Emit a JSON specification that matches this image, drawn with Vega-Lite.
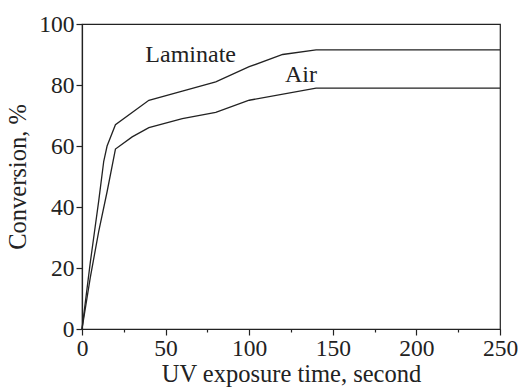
{
  "$schema": "https://vega.github.io/schema/vega-lite/v6.json",
  "width": 418,
  "height": 305,
  "autosize": {"type": "none"},
  "padding": {"left": 82, "top": 24, "right": 20, "bottom": 63},
  "background": "white",
  "config": {
    "view": {"stroke": "#222", "strokeWidth": 1.2},
    "font": "'Liberation Serif', 'Times New Roman', serif",
    "text": {"font": "'Liberation Serif', 'Times New Roman', serif"},
    "axis": {
      "domainColor": "#222", "domainWidth": 1.2, "tickColor": "#222", "tickWidth": 1.2,
      "labelColor": "#222", "titleColor": "#222",
      "labelFont": "'Liberation Serif', 'Times New Roman', serif", "titleFont": "'Liberation Serif', 'Times New Roman', serif",
      "labelFontSize": 23.5, "titleFontSize": 24.5, "titleFontWeight": "normal", "grid": false
    }
  },
  "datasets": {
    "curves": [
      {"t": 0, "v": 0, "s": "Laminate"}, {"t": 5, "v": 22, "s": "Laminate"}, {"t": 10, "v": 42, "s": "Laminate"},
      {"t": 13, "v": 55, "s": "Laminate"}, {"t": 15, "v": 60, "s": "Laminate"}, {"t": 20, "v": 67, "s": "Laminate"},
      {"t": 40, "v": 75, "s": "Laminate"}, {"t": 60, "v": 78, "s": "Laminate"}, {"t": 80, "v": 81, "s": "Laminate"},
      {"t": 100, "v": 86, "s": "Laminate"}, {"t": 120, "v": 90, "s": "Laminate"}, {"t": 140, "v": 91.5, "s": "Laminate"},
      {"t": 250, "v": 91.5, "s": "Laminate"},
      {"t": 0, "v": 0, "s": "Air"}, {"t": 5, "v": 17, "s": "Air"}, {"t": 10, "v": 32, "s": "Air"},
      {"t": 15, "v": 45, "s": "Air"}, {"t": 20, "v": 59, "s": "Air"}, {"t": 30, "v": 63, "s": "Air"},
      {"t": 40, "v": 66, "s": "Air"}, {"t": 60, "v": 69, "s": "Air"}, {"t": 80, "v": 71, "s": "Air"},
      {"t": 100, "v": 75, "s": "Air"}, {"t": 140, "v": 79, "s": "Air"}, {"t": 250, "v": 79, "s": "Air"}
    ],
    "labels": [
      {"t": 65, "v": 90, "text": "Laminate"},
      {"t": 131, "v": 83.4, "text": "Air"}
    ]
  },
  "layer": [
    {
      "data": {"name": "curves"},
      "mark": {"type": "line", "color": "#222", "strokeWidth": 1.3},
      "encoding": {
        "x": {
          "field": "t", "type": "quantitative",
          "scale": {"domain": [0, 250], "nice": false},
          "axis": {
            "title": "UV exposure time, second", "titlePadding": 3,
            "values": [0, 25, 50, 75, 100, 125, 150, 175, 200, 225, 250],
            "labelExpr": "datum.value % 50 === 0 ? datum.label : ''",
            "tickSize": {"condition": {"test": "datum.value % 50 === 0", "value": 6}, "value": 3},
            "labelPadding": 1, "labelFlush": false, "labelOverlap": false
          }
        },
        "y": {
          "field": "v", "type": "quantitative",
          "scale": {"domain": [0, 100], "nice": false},
          "axis": {
            "title": "Conversion, %", "titlePadding": 8,
            "values": [0, 10, 20, 30, 40, 50, 60, 70, 80, 90, 100],
            "labelExpr": "datum.value % 20 === 0 ? datum.label : ''",
            "tickSize": {"condition": {"test": "datum.value % 20 === 0", "value": 6}, "value": 3},
            "labelPadding": 2, "labelFlush": false, "labelOverlap": false
          }
        },
        "detail": {"field": "s"}
      }
    },
    {
      "data": {"name": "labels"},
      "mark": {"type": "text", "font": "'Liberation Serif', 'Times New Roman', serif", "fontSize": 24, "color": "#222"},
      "encoding": {
        "x": {"field": "t", "type": "quantitative"},
        "y": {"field": "v", "type": "quantitative"},
        "text": {"field": "text"}
      }
    }
  ]
}
